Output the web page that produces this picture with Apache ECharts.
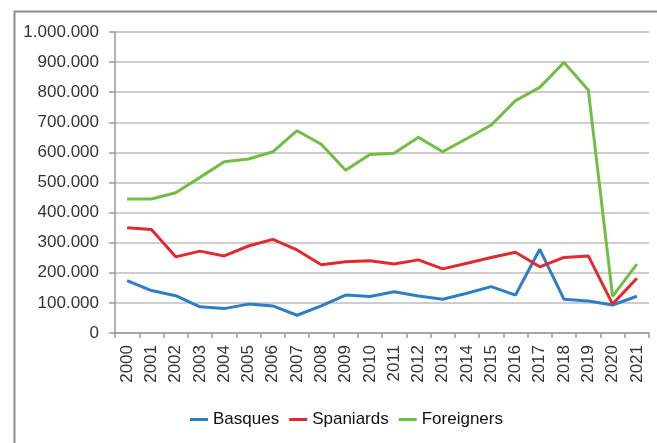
<!DOCTYPE html>
<html>
<head>
<meta charset="utf-8">
<script src="https://cdn.jsdelivr.net/npm/echarts@6/dist/echarts.min.js"></script>
<style>html,body{margin:0;padding:0;background:#fff}#c{width:657px;height:443px}</style>
</head>
<body>
<div id="c"></div>
<script>
const years = ['2000','2001','2002','2003','2004','2005','2006','2007','2008','2009','2010','2011','2012','2013','2014','2015','2016','2017','2018','2019','2020','2021'];
const basques = [174000,141000,124000,87000,81000,96000,90000,59000,90000,126000,121000,137000,123000,112000,132000,154000,126000,278000,112000,106000,93000,122000];
const spaniards = [350000,344000,253000,272000,256000,289000,311000,276000,227000,237000,240000,229000,243000,213000,232000,251000,268000,220000,251000,256000,96000,182000];
const foreigners = [445000,445000,466000,517000,569000,578000,602000,672000,627000,541000,593000,597000,650000,602000,646000,691000,772000,816000,899000,807000,122000,229000];
const seriesNames = ['Basques','Spaniards','Foreigners'];

function fmt(v){
  return String(v).replace(/\B(?=(\d{3})+(?!\d))/g,'.');
}
const chart = echarts.init(document.getElementById('c'), null, {renderer:'canvas'});
const font = 'Liberation Sans, Arial, sans-serif';
chart.setOption({
  animation:false,
  backgroundColor:'#fff',
  graphic:[{type:'rect',left:12,top:9,shape:{width:700,height:500},style:{fill:'none',stroke:'#8c8c8c',lineWidth:2},silent:true,z:-1}],
  grid:{left:115,right:8,top:32,bottom:110,containLabel:false},
  legend:{
    left:185, top:406,
    icon:'rect', itemWidth:18, itemHeight:3, itemGap:10,
    textStyle:{fontFamily:font,fontSize:17,color:'#111'},
    data:seriesNames
  },
  xAxis:{
    type:'category', data:years, boundaryGap:true,
    axisLine:{lineStyle:{color:'#9a9a9a',width:1.5}},
    axisTick:{show:true,length:5,lineStyle:{color:'#9a9a9a',width:1.5}},
    axisLabel:{rotate:90,margin:12,fontFamily:font,fontSize:17,color:'#333'}
  },
  yAxis:{
    type:'value', min:0, max:1000000, interval:100000,
    axisLine:{show:true,lineStyle:{color:'#9a9a9a',width:1.5}},
    axisTick:{show:true,length:6,lineStyle:{color:'#9a9a9a',width:1.5}},
    splitLine:{lineStyle:{color:'#bdbdbd',width:1.5}},
    axisLabel:{margin:16,fontFamily:font,fontSize:17,color:'#333',formatter:fmt}
  },
  series:[
    {name:seriesNames[0],type:'line',data:basques,showSymbol:false,symbol:'none',lineStyle:{width:3,color:'#2f7dc6'},itemStyle:{color:'#2f7dc6'}},
    {name:seriesNames[1],type:'line',data:spaniards,showSymbol:false,symbol:'none',lineStyle:{width:3,color:'#e2292e'},itemStyle:{color:'#e2292e'}},
    {name:seriesNames[2],type:'line',data:foreigners,showSymbol:false,symbol:'none',lineStyle:{width:3,color:'#72bd44'},itemStyle:{color:'#72bd44'}}
  ]
});
</script>
</body>
</html>
